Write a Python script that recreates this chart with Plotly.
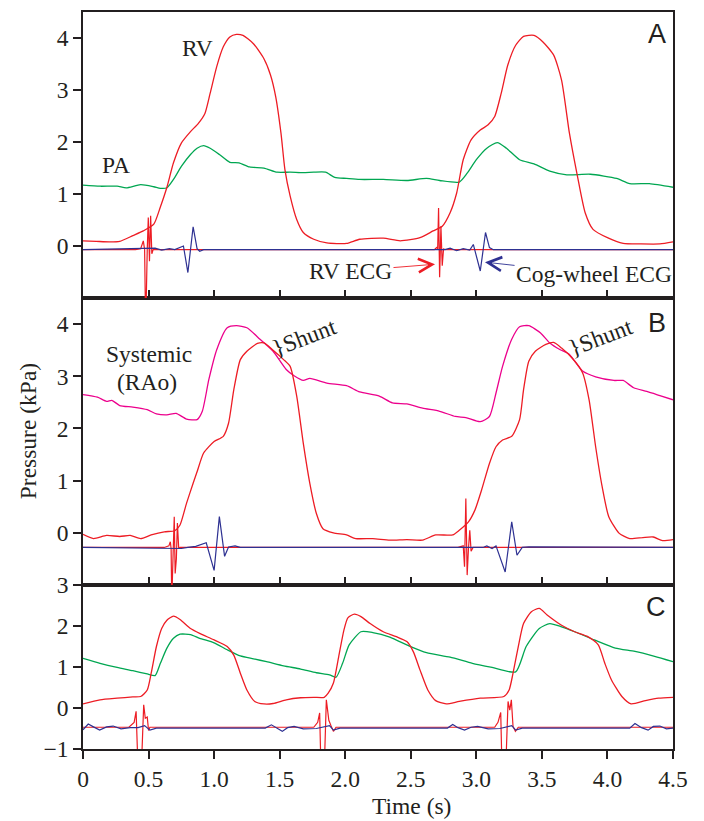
import plotly.graph_objects as go

# ---------------- Panel A ----------------
A_RV_T = [0, 0.1, 0.2, 0.28, 0.38, 0.46, 0.54, 0.59, 0.64, 0.69, 0.75, 0.82, 0.88, 0.93, 0.97, 1.02,
          1.07, 1.12, 1.17, 1.22, 1.30, 1.38, 1.43, 1.47, 1.51, 1.54, 1.58, 1.63, 1.68, 1.76, 1.86,
          2.01, 2.11, 2.29, 2.42, 2.57, 2.67, 2.74, 2.80, 2.85, 2.90, 2.96, 3.03, 3.09, 3.14, 3.19,
          3.24, 3.30, 3.36, 3.44, 3.51, 3.59, 3.65, 3.71, 3.77, 3.83, 3.89, 4.0, 4.12, 4.25, 4.40, 4.5]
A_RV_P = [0.10, 0.09, 0.08, 0.09, 0.20, 0.29, 0.42, 0.75, 1.13, 1.60, 1.98, 2.20, 2.36, 2.55, 2.94, 3.45,
          3.83, 4.02, 4.07, 4.05, 3.89, 3.60, 3.29, 2.87, 2.17, 1.47, 0.96, 0.51, 0.26, 0.13, 0.06,
          0.05, 0.13, 0.15, 0.10, 0.16, 0.29, 0.38, 0.64, 1.02, 1.66, 2.04, 2.23, 2.33, 2.49, 2.94,
          3.48, 3.86, 4.03, 4.05, 3.92, 3.67, 3.19, 2.17, 1.36, 0.64, 0.32, 0.16, 0.05, 0.04, 0.04, 0.08]

A_PA_T = [0, 0.13, 0.26, 0.33, 0.44, 0.54, 0.59, 0.64, 0.69, 0.75, 0.82, 0.87, 0.92, 0.97, 1.04, 1.12,
          1.19, 1.27, 1.38, 1.48, 1.58, 1.68, 1.76, 1.85, 1.92, 2.01, 2.11, 2.29, 2.47, 2.62, 2.72,
          2.87, 2.93, 3.00, 3.08, 3.16, 3.23, 3.33, 3.44, 3.56, 3.69, 3.87, 4.07, 4.17, 4.32, 4.5]
A_PA_P = [1.17, 1.15, 1.15, 1.12, 1.18, 1.14, 1.11, 1.12, 1.28, 1.53, 1.76, 1.88, 1.93, 1.88, 1.76, 1.61,
          1.60, 1.52, 1.50, 1.42, 1.42, 1.41, 1.42, 1.42, 1.32, 1.30, 1.28, 1.28, 1.26, 1.30, 1.26,
          1.23, 1.40, 1.66, 1.88, 1.99, 1.88, 1.66, 1.58, 1.44, 1.37, 1.38, 1.30, 1.20, 1.20, 1.13]

A_RVECG_T = [0, 0.40, 0.44, 0.46, 0.47, 0.478, 0.49, 0.498, 0.507, 0.516, 0.525, 0.535,
             2.68, 2.70, 2.705, 2.712, 2.72, 2.73, 2.74, 2.75, 2.76, 4.5]
A_RVECG_P = [-0.07, -0.07, -0.05, 0.10, -0.07, -1.60, -0.07, 0.55, -0.29, 0.58, -0.15, -0.07,
             -0.07, -0.02, -0.07, 0.73, -0.60, 0.38, -0.38, -0.05, -0.07, -0.07]

A_COG_T = [0, 0.55, 0.60, 0.66, 0.70, 0.74, 0.766, 0.80, 0.84, 0.87, 0.89, 0.92,
           2.76, 2.80, 2.85, 2.90, 2.95, 2.977, 3.03, 3.07, 3.10, 3.13, 4.5]
A_COG_P = [-0.07, -0.04, -0.08, -0.05, -0.07, -0.03, 0.0, -0.51, 0.37, -0.05, -0.10, -0.07,
           -0.07, -0.04, -0.09, -0.05, -0.08, 0.03, -0.48, 0.26, -0.03, -0.07, -0.07]

# ---------------- Panel B ----------------
B_SYS_T = [0, 0.11, 0.18, 0.22, 0.28, 0.38, 0.49, 0.56, 0.64, 0.71, 0.79, 0.87, 0.91, 0.96, 1.02, 1.10,
           1.17, 1.25, 1.35, 1.45, 1.55, 1.61, 1.68, 1.73, 1.86, 2.01, 2.11, 2.26, 2.36, 2.47, 2.59,
           2.72, 2.84, 2.92, 3.03, 3.10, 3.15, 3.20, 3.27, 3.33, 3.40, 3.49, 3.56, 3.64, 3.71, 3.81,
           3.91, 4.05, 4.12, 4.20, 4.30, 4.40, 4.5]
B_SYS_P = [2.65, 2.60, 2.52, 2.54, 2.44, 2.41, 2.36, 2.28, 2.26, 2.29, 2.18, 2.17, 2.33, 2.94, 3.51, 3.93,
           3.97, 3.93, 3.71, 3.48, 3.13, 3.01, 2.92, 2.96, 2.87, 2.82, 2.70, 2.62, 2.49, 2.47, 2.39,
           2.33, 2.23, 2.21, 2.13, 2.23, 2.68, 3.19, 3.71, 3.95, 3.97, 3.83, 3.64, 3.51, 3.42, 3.10,
           2.99, 2.92, 2.92, 2.78, 2.71, 2.63, 2.55]

B_RV_T = [0, 0.08, 0.18, 0.28, 0.36, 0.44, 0.52, 0.62, 0.70, 0.74, 0.79, 0.84, 0.87, 0.92, 1.0, 1.07,
          1.11, 1.15, 1.20, 1.25, 1.33, 1.38, 1.45, 1.53, 1.58, 1.63, 1.68, 1.73, 1.78, 1.83, 1.91,
          2.01, 2.08, 2.21, 2.34, 2.47, 2.59, 2.69, 2.82, 2.87, 2.94, 2.99, 3.04, 3.10, 3.15, 3.20,
          3.27, 3.33, 3.36, 3.40, 3.45, 3.53, 3.59, 3.65, 3.73, 3.81, 3.86, 3.91, 3.96, 4.01, 4.09,
          4.17, 4.27, 4.35, 4.42, 4.5]
B_RV_P = [-0.03, -0.11, -0.05, -0.07, -0.05, -0.11, -0.04, 0.02, 0.04, 0.15, 0.57, 0.95, 1.17, 1.53, 1.75, 1.85,
          2.10, 2.74, 3.32, 3.48, 3.63, 3.64, 3.50, 3.32, 3.19, 2.62, 1.72, 0.95, 0.37, 0.08, 0.0,
          -0.04, -0.11, -0.11, -0.14, -0.13, -0.14, -0.04, -0.04, 0.05, 0.21, 0.44, 0.82, 1.33, 1.65, 1.78,
          1.85, 2.17, 2.74, 3.29, 3.48, 3.61, 3.65, 3.54, 3.35, 3.07, 2.55, 1.65, 0.88, 0.31, -0.01,
          -0.11, -0.09, -0.08, -0.15, -0.13]

B_RVECG_T = [0, 0.62, 0.655, 0.666, 0.672, 0.677, 0.688, 0.696, 0.703, 0.712, 0.72, 0.73, 0.74,
             2.86, 2.90, 2.91, 2.92, 2.93, 2.94, 2.95, 2.96, 2.975, 4.5]
B_RVECG_P = [-0.28, -0.28, -0.25, -0.17, -0.30, -1.30, -0.35, 0.31, -0.78, -0.50, 0.19, -0.30, -0.28,
             -0.28, -0.25, -0.65, 0.66, -0.81, -0.30, 0.05, -0.35, -0.28, -0.28]

B_COG_T = [0, 0.75, 0.80, 0.86, 0.94, 1.00, 1.04, 1.08, 1.11, 1.16, 1.20,
           3.05, 3.08, 3.12, 3.15, 3.22, 3.27, 3.31, 3.35, 3.40, 4.5]
B_COG_P = [-0.28, -0.30, -0.28, -0.26, -0.19, -0.72, 0.31, -0.45, -0.27, -0.25, -0.28,
           -0.28, -0.25, -0.30, -0.25, -0.75, 0.21, -0.43, -0.28, -0.27, -0.28]

# ---------------- Panel C ----------------
C_RV_T = [0, 0.13, 0.26, 0.38, 0.44, 0.49, 0.52, 0.56, 0.60, 0.64, 0.69, 0.74, 0.82, 0.89, 1.0, 1.10,
          1.15, 1.20, 1.25, 1.31, 1.38, 1.45, 1.55, 1.66, 1.76, 1.84, 1.87, 1.91, 1.95, 1.99, 2.02,
          2.07, 2.12, 2.19, 2.29, 2.39, 2.47, 2.52, 2.57, 2.63, 2.69, 2.77, 2.87, 3.03, 3.21, 3.25,
          3.28, 3.32, 3.36, 3.42, 3.48, 3.54, 3.65, 3.75, 3.85, 3.93, 3.98, 4.03, 4.11, 4.18, 4.29,
          4.39, 4.5]
C_RV_P = [0.10, 0.20, 0.24, 0.27, 0.28, 0.44, 0.85, 1.50, 1.94, 2.14, 2.24, 2.16, 1.94, 1.82, 1.66, 1.50,
          1.29, 0.85, 0.44, 0.16, 0.10, 0.11, 0.20, 0.25, 0.26, 0.26, 0.36, 0.61, 1.25, 1.90, 2.20,
          2.29, 2.23, 2.06, 1.86, 1.74, 1.62, 1.37, 0.93, 0.44, 0.18, 0.10, 0.16, 0.24, 0.28, 0.44,
          0.85, 1.50, 2.06, 2.35, 2.43, 2.27, 2.02, 1.86, 1.74, 1.54, 1.09, 0.69, 0.28, 0.10, 0.18,
          0.24, 0.26]

C_PA_T = [0, 0.13, 0.26, 0.38, 0.49, 0.55, 0.59, 0.64, 0.69, 0.74, 0.82, 0.89, 1.0, 1.10, 1.20, 1.30,
          1.40, 1.53, 1.66, 1.78, 1.88, 1.93, 1.98, 2.03, 2.12, 2.21, 2.34, 2.49, 2.62, 2.80, 2.97,
          3.12, 3.30, 3.38, 3.48, 3.56, 3.65, 3.75, 3.90, 4.06, 4.21, 4.36, 4.5]
C_PA_P = [1.21, 1.09, 0.99, 0.91, 0.83, 0.79, 1.09, 1.46, 1.70, 1.80, 1.79, 1.70, 1.59, 1.42, 1.27, 1.20,
          1.13, 1.03, 0.95, 0.86, 0.81, 0.75, 1.09, 1.54, 1.86, 1.84, 1.73, 1.51, 1.35, 1.24, 1.09,
          0.99, 0.88, 1.50, 1.94, 2.06, 1.98, 1.86, 1.66, 1.46, 1.38, 1.26, 1.13]

C_RVECG_T = [0, 0.35, 0.39, 0.405, 0.42, 0.445, 0.463, 0.475, 0.49, 0.50, 0.51, 0.53,
             1.76, 1.79, 1.805, 1.815, 1.84, 1.856, 1.865, 1.875, 1.89, 1.91, 1.93,
             3.14, 3.165, 3.186, 3.196, 3.224, 3.242, 3.255, 3.267, 3.28, 3.298, 3.32, 4.5]
C_RVECG_P = [-0.47, -0.47, -0.35, -0.08, -1.50, -1.50, 0.08, -0.25, -0.22, -0.55, -0.47, -0.47,
             -0.47, -0.35, -0.12, -1.50, -1.50, 0.20, -0.05, -0.30, -0.42, -0.57, -0.47,
             -0.47, -0.35, -0.11, -1.50, -1.50, 0.16, -0.05, 0.20, -0.45, -0.57, -0.47, -0.47]

C_COG_T = [0, 0.04, 0.08, 0.127, 0.18, 0.23, 0.29, 0.36, 0.42, 0.47, 0.51, 0.56, 0.65,
           1.39, 1.437, 1.47, 1.52, 1.56, 1.61, 1.68, 1.78, 1.88, 1.91, 1.96,
           2.78, 2.82, 2.86, 2.91, 2.96, 3.01, 3.09, 3.18, 3.27, 3.30, 3.35,
           4.17, 4.21, 4.26, 4.31, 4.35, 4.40, 4.45, 4.5]
C_COG_P = [-0.53, -0.39, -0.46, -0.54, -0.46, -0.44, -0.51, -0.48, -0.48, -0.43, -0.54, -0.49, -0.49,
           -0.49, -0.41, -0.48, -0.57, -0.48, -0.45, -0.51, -0.50, -0.43, -0.54, -0.49,
           -0.49, -0.40, -0.48, -0.54, -0.47, -0.45, -0.51, -0.50, -0.43, -0.54, -0.49,
           -0.49, -0.38, -0.48, -0.54, -0.45, -0.44, -0.51, -0.49]

X_TICKS = [0, 0.5, 1.0, 1.5, 2.0, 2.5, 3.0, 3.5, 4.0, 4.5]
X_TICKTEXT = ["0", "0.5", "1.0", "1.5", "2.0", "2.5", "3.0", "3.5", "4.0", "4.5"]
Y_TICKS_AB = [0, 1, 2, 3, 4]
Y_TICKS_C = [-1, 0, 1, 2, 3]

RED = "#ed1c24"
GREEN = "#00a651"
MAGENTA = "#ec008c"
NAVY = "#2e3192"
INK = "#231f20"
SERIF = "Liberation Serif"
FS = 23.5

fig = go.Figure()


def add(t, p, color, xa, ya, spline=True, width=1.3):
    fig.add_trace(go.Scatter(
        x=t, y=p, mode="lines", xaxis=xa, yaxis=ya, showlegend=False, hoverinfo="skip",
        line=dict(color=color, width=width, shape="spline" if spline else "linear",
                  smoothing=0.6 if spline else None)))


# Panel A (x3, y3)
add(A_RVECG_T, A_RVECG_P, RED, "x3", "y3", spline=False, width=1.2)
add(A_COG_T, A_COG_P, NAVY, "x3", "y3", spline=False, width=1.2)
add(A_PA_T, A_PA_P, GREEN, "x3", "y3")
add(A_RV_T, A_RV_P, RED, "x3", "y3")
# Panel B (x2, y2)
add(B_RVECG_T, B_RVECG_P, RED, "x2", "y2", spline=False, width=1.2)
add(B_COG_T, B_COG_P, NAVY, "x2", "y2", spline=False, width=1.2)
add(B_SYS_T, B_SYS_P, MAGENTA, "x2", "y2")
add(B_RV_T, B_RV_P, RED, "x2", "y2")
# Panel C (x, y)
add(C_RVECG_T, C_RVECG_P, RED, "x", "y", spline=False, width=1.2)
add(C_COG_T, C_COG_P, NAVY, "x", "y", spline=False, width=1.2)
add(C_PA_T, C_PA_P, GREEN, "x", "y")
add(C_RV_T, C_RV_P, RED, "x", "y")

axis_common = dict(showline=True, linecolor=INK, linewidth=1.5, mirror=True, showgrid=False,
                   zeroline=False, ticklen=8, tickwidth=1.5, tickcolor=INK, automargin=False,
                   tickfont=dict(family=SERIF, size=FS, color=INK))

DOM_C = [0, 0.2225]
DOM_B = [0.2225, 0.6119]
DOM_A = [0.6119, 1.0]

fig.update_layout(
    width=704, height=821, autosize=False,
    margin=dict(l=83, r=31, t=12, b=72, pad=0, autoexpand=False),
    paper_bgcolor="white", plot_bgcolor="white",
    xaxis=dict(domain=[0, 1], anchor="y", range=[0, 4.5], tickvals=X_TICKS, ticktext=X_TICKTEXT,
               ticks="outside", **axis_common),
    yaxis=dict(domain=DOM_C, anchor="x", range=[-1, 3], tickvals=Y_TICKS_C, ticks="outside",
               **axis_common),
    xaxis2=dict(domain=[0, 1], anchor="y2", range=[0, 4.5], tickvals=X_TICKS, ticks="inside",
                showticklabels=False, matches="x", **axis_common),
    yaxis2=dict(domain=DOM_B, anchor="x2", range=[-1, 4.5], tickvals=Y_TICKS_AB, ticks="outside",
                **axis_common),
    xaxis3=dict(domain=[0, 1], anchor="y3", range=[0, 4.5], tickvals=X_TICKS, ticks="inside",
                showticklabels=False, matches="x", **axis_common),
    yaxis3=dict(domain=DOM_A, anchor="x3", range=[-1, 4.5], tickvals=Y_TICKS_AB, ticks="outside",
                **axis_common),
)

serif = dict(family=SERIF, size=FS, color=INK)
sans = dict(family="Liberation Sans", size=27, color=INK)

ann = [
    # panel letters
    dict(text="A", x=4.465, y=4.07, xref="x3", yref="y3", xanchor="right", yanchor="middle",
         showarrow=False, font=sans),
    dict(text="B", x=4.465, y=4.02, xref="x2", yref="y2", xanchor="right", yanchor="middle",
         showarrow=False, font=sans),
    dict(text="C", x=4.465, y=2.47, xref="x", yref="y", xanchor="right", yanchor="middle",
         showarrow=False, font=sans),
    # trace labels
    dict(text="RV", x=0.873, y=3.80, xref="x3", yref="y3", showarrow=False, font=serif),
    dict(text="PA", x=0.248, y=1.56, xref="x3", yref="y3", showarrow=False, font=serif),
    dict(text="RV ECG", x=2.685, y=-0.35, ax=2.04, ay=-0.48, xref="x3", yref="y3",
         axref="x3", ayref="y3", showarrow=True, arrowhead=5, arrowsize=3, arrowwidth=0.9,
         arrowcolor=RED, font=serif),
    dict(text="Cog-wheel ECG", x=3.066, y=-0.31, ax=3.898, ay=-0.54, xref="x3", yref="y3",
         axref="x3", ayref="y3", showarrow=True, arrowhead=5, arrowsize=3, arrowwidth=0.9,
         arrowcolor=NAVY, font=serif),
    dict(text="Systemic", x=0.50, y=3.42, xref="x2", yref="y2", showarrow=False, font=serif),
    dict(text="(RAo)", x=0.486, y=2.90, xref="x2", yref="y2", showarrow=False, font=serif),
    dict(text="}Shunt", x=1.693, y=3.75, xref="x2", yref="y2", showarrow=False, font=serif,
         textangle=-21),
    dict(text="}Shunt", x=3.95, y=3.76, xref="x2", yref="y2", showarrow=False, font=serif,
         textangle=-21),
    # axis titles
    dict(text="Pressure (kPa)", x=-0.094, y=0.4305, xref="paper", yref="paper",
         xanchor="center", yanchor="middle", textangle=-90, showarrow=False, font=serif),
    dict(text="Time (s)", x=0.5576, y=-0.0773, xref="paper", yref="paper",
         xanchor="center", yanchor="middle", showarrow=False, font=serif),
]
fig.update_layout(annotations=ann)

fig.write_html("out.html", config={"displayModeBar": False},
               post_script="document.body.style.margin='0';document.body.style.padding='0';")
